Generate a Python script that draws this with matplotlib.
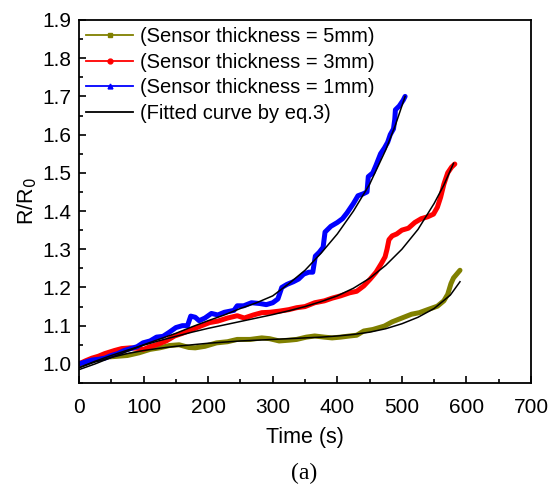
import numpy as np
import matplotlib
matplotlib.use("Agg")
import matplotlib.pyplot as plt
from matplotlib.lines import Line2D
from matplotlib.ticker import MultipleLocator, FormatStrFormatter

plt.rcParams['font.family'] = ['Liberation Sans', 'DejaVu Sans']

t_5mm = [0, 15, 30, 45, 60, 75, 93, 110, 125, 140, 155, 170, 180, 195, 213, 230, 245, 265, 283, 295,
         310, 325, 337, 352, 365, 380, 392, 405, 419, 430, 441, 455, 473, 485, 500, 515, 527, 540,
         555, 565, 571, 576, 580, 585, 590]
r_5mm = [1.0, 1.008, 1.014, 1.018, 1.02, 1.022, 1.029, 1.038, 1.042, 1.048, 1.05, 1.043, 1.042, 1.046,
         1.055, 1.058, 1.064, 1.064, 1.068, 1.066, 1.06, 1.062, 1.064, 1.07, 1.073, 1.07, 1.068, 1.07,
         1.073, 1.075, 1.086, 1.09, 1.099, 1.11, 1.12, 1.13, 1.134, 1.142, 1.151, 1.165, 1.182, 1.21,
         1.225, 1.235, 1.245]

t_3mm = [0, 10, 20, 30, 40, 55, 66, 80, 95, 100, 110, 120, 135, 148, 160, 175, 190, 202, 215, 230,
         245, 256, 270, 283, 295, 310, 325, 337, 350, 365, 380, 392, 405, 419, 430, 441, 451, 460,
         468, 474, 477, 480, 485, 492, 500, 510, 520, 530, 540, 549, 555, 560, 565, 571, 577, 582]
r_3mm = [1.0, 1.008, 1.015, 1.02, 1.027, 1.035, 1.04, 1.042, 1.04, 1.038, 1.045, 1.05, 1.06, 1.073,
         1.08, 1.09, 1.1, 1.108, 1.112, 1.12, 1.126, 1.12, 1.128, 1.134, 1.135, 1.138, 1.142, 1.147,
         1.15, 1.16, 1.165, 1.172, 1.178, 1.186, 1.19, 1.204, 1.222, 1.24, 1.262, 1.28, 1.3, 1.325,
         1.335, 1.34, 1.35, 1.355, 1.37, 1.38, 1.385, 1.392, 1.41, 1.436, 1.47, 1.5, 1.515, 1.523]

t_1mm = [0, 10, 20, 30, 40, 50, 60, 70, 80, 90, 99, 110, 120, 130, 140, 150, 160, 168, 173, 180,
         186, 195, 205, 215, 225, 240, 245, 255, 267, 280, 290, 300, 308, 314, 322, 332, 340, 348,
         356, 362, 366, 372, 378, 381, 390, 400, 408, 415, 425, 432, 440, 446, 448, 455, 460, 467,
         473, 478, 482, 487, 489, 490, 496, 502, 505]
r_1mm = [1.0, 1.005, 1.01, 1.012, 1.015, 1.022, 1.027, 1.035, 1.04, 1.045, 1.055, 1.06, 1.07, 1.072,
         1.083, 1.095, 1.1, 1.1, 1.125, 1.122, 1.113, 1.12, 1.132, 1.128, 1.135, 1.14, 1.152, 1.152,
         1.16, 1.158, 1.155, 1.16, 1.17, 1.2, 1.208, 1.215, 1.222, 1.235, 1.24, 1.24, 1.282, 1.292,
         1.305, 1.345, 1.36, 1.37, 1.38, 1.395, 1.42, 1.44, 1.445, 1.45, 1.49, 1.5, 1.52, 1.55, 1.565,
         1.58, 1.6, 1.615, 1.64, 1.665, 1.675, 1.69, 1.70]

# fitted curves (eq.3)
tf_5mm = [0, 25, 50, 75, 100, 125, 150, 175, 200, 225, 250, 275, 300, 325, 350, 375, 400, 425, 450,
          475, 500, 525, 550, 575, 590]
rf_5mm = [0.99, 1.005, 1.017, 1.027, 1.035, 1.041, 1.046, 1.05, 1.054, 1.057, 1.06, 1.062, 1.064,
          1.066, 1.068, 1.07, 1.073, 1.077, 1.083, 1.092, 1.105, 1.122, 1.145, 1.18, 1.215]

tf_3mm = [0, 25, 50, 75, 100, 125, 150, 175, 200, 225, 250, 275, 300, 325, 350, 375, 400, 425, 450,
          475, 500, 525, 550, 565, 580]
rf_3mm = [0.99, 1.007, 1.022, 1.036, 1.049, 1.061, 1.072, 1.083, 1.093, 1.102, 1.111, 1.12, 1.129,
          1.139, 1.15, 1.163, 1.178, 1.198, 1.224, 1.258, 1.3, 1.352, 1.42, 1.468, 1.525]

tf_1mm = [0, 25, 50, 75, 100, 125, 150, 175, 200, 225, 250, 275, 300, 325, 350, 375, 400, 425, 450,
          475, 490, 505]
rf_1mm = [0.985, 1.0, 1.017, 1.033, 1.05, 1.065, 1.08, 1.097, 1.113, 1.128, 1.145, 1.16, 1.178,
          1.21, 1.245, 1.29, 1.34, 1.40, 1.47, 1.56, 1.625, 1.70]

labels = ['(Sensor thickness = 5mm)', '(Sensor thickness = 3mm)',
          '(Sensor thickness = 1mm)', '(Fitted curve by eq.3)']
colors = ['#808000', '#ff0000', '#0000ff', 'black']
markers = ['s', 'o', '^', None]

fig = plt.figure(figsize=(5.48, 4.84), dpi=100)
ax = fig.add_axes([0.1442, 0.2087, 0.8248, 0.75])

lw = 3.6
ax.plot(t_5mm, r_5mm, color=colors[0], lw=lw, solid_capstyle='round', solid_joinstyle='round')
ax.plot(t_3mm, r_3mm, color=colors[1], lw=lw, solid_capstyle='round', solid_joinstyle='round')
ax.plot(t_1mm, r_1mm, color=colors[2], lw=lw, solid_capstyle='round', solid_joinstyle='round')
for tf, rf in [(tf_5mm, rf_5mm), (tf_3mm, rf_3mm), (tf_1mm, rf_1mm)]:
    ax.plot(tf, rf, color='black', lw=1.1)

ax.set_xlim(0, 700)
ax.set_ylim(0.95, 1.9)
ax.xaxis.set_major_locator(MultipleLocator(100))
ax.xaxis.set_minor_locator(MultipleLocator(50))
ax.yaxis.set_major_locator(MultipleLocator(0.1))
ax.yaxis.set_minor_locator(MultipleLocator(0.05))
ax.yaxis.set_major_formatter(FormatStrFormatter('%.1f'))
ax.tick_params(which='both', direction='in', labelsize=15, width=1.2)
ax.tick_params(which='major', length=5)
ax.tick_params(which='minor', length=3)
ax.tick_params(axis='x', pad=11)
ax.tick_params(axis='y', pad=5.5)
for s in ax.spines.values():
    s.set_linewidth(1.3)

ax.set_xlabel('Time (s)', fontsize=15.5, labelpad=7)
ax.set_ylabel('R/R$_0$', fontsize=15.5, labelpad=2)

handles = [Line2D([], [], color=c, marker=m, markersize=3.5, lw=1.3) for c, m in zip(colors, markers)]
ax.legend(handles, labels, loc='upper left', frameon=False, fontsize=14.5,
          handlelength=2.33, handletextpad=0.35, labelspacing=0.33,
          borderaxespad=0.15, borderpad=0.2)

fig.text(0.555, 0.0227, '(a)', family='Liberation Serif', fontsize=17, ha='center', va='center')

fig.savefig('out.png', dpi=100)
